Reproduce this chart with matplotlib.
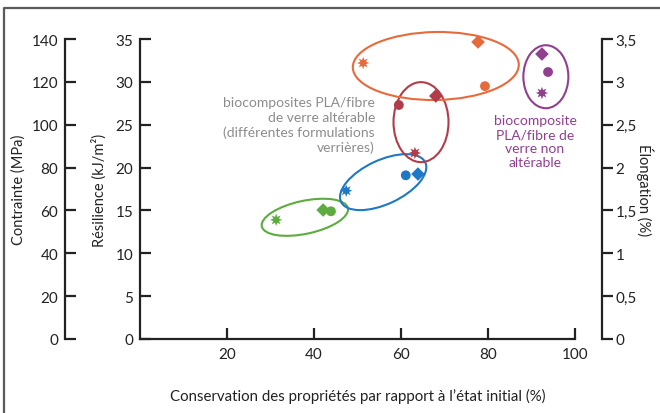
"""Conservation des propriétés - biocomposites PLA / fibre de verre."""

import matplotlib

matplotlib.use("Agg")
import matplotlib.pyplot as plt
import matplotlib.transforms as mtransforms
from matplotlib.lines import Line2D
from matplotlib.patches import Ellipse

plt.rcParams.update({"font.family": ["Lato", "DejaVu Sans"], "font.size": 10.5})

INK = "#222222"
GREY = "#8c8c8c"
GROUP_COLORS = ["#5eab3f", "#1f78c4", "#b13d4a", "#e76a3c", "#913f8f"]

# one value per group: green, blue, red, orange, purple
star_x = [31.3, 47.4, 63.2, 51.3, 92.4]
star_y = [13.9, 17.3, 21.7, 32.2, 28.7]
diamond_x = [42.1, 63.9, 68.0, 77.7, 92.4]
diamond_y = [15.05, 19.25, 28.35, 34.65, 33.25]
circle_x = [43.9, 61.1, 59.5, 79.3, 93.8]
circle_y = [14.9, 19.1, 27.3, 29.5, 31.15]

# ellipse centres (data units)
ell_cx = [37.9, 55.9, 64.6, 68.0, 93.3]
ell_cy = [14.2, 18.3, 25.3, 31.85, 30.6]

x_ticks = [20, 40, 60, 80, 100]
res_ticks = [0, 5, 10, 15, 20, 25, 30, 35]
con_ticks = [0, 20, 40, 60, 80, 100, 120, 140]
elo_ticks = [0, 0.5, 1, 1.5, 2, 2.5, 3, 3.5]
elo_labels = ["0", "0,5", "1", "1,5", "2", "2,5", "3", "3,5"]

W, H = 660, 414
fig = plt.figure(figsize=(W / 100, H / 100), dpi=100)
rect = [140 / W, (H - 340) / H, 435 / W, 300 / H]

# résilience axis (main)
ax = fig.add_axes(rect)
ax.set_xlim(0, 100)
ax.set_ylim(0, 35)
ax.patch.set_alpha(0)
for s in ["top", "right"]:
    ax.spines[s].set_visible(False)
for s in ["left", "bottom"]:
    ax.spines[s].set_linewidth(1.6)
    ax.spines[s].set_color(INK)
ax.set_xticks(x_ticks)
ax.set_yticks(res_ticks)
ax.tick_params(direction="in", length=8, width=1.6, color=INK, labelcolor=INK,
               labelsize=11)
ax.tick_params(axis="y", pad=5)
ax.tick_params(axis="x", pad=6)
ax.set_ylabel("Résilience (kJ/m²)", fontsize=10.5, labelpad=6, color=INK)
ax.set_xlabel("Conservation des propriétés par rapport à l’état initial (%)",
              fontsize=10.8, labelpad=19, color=INK)

# contrainte axis
ax2 = fig.add_axes(rect, sharex=ax)
ax2.patch.set_alpha(0)
ax2.set_ylim(0, 140)
for s in ["top", "right", "bottom"]:
    ax2.spines[s].set_visible(False)
ax2.spines["left"].set_position(("axes", -75 / 435))
ax2.spines["left"].set_linewidth(1.6)
ax2.spines["left"].set_color(INK)
ax2.set_yticks(con_ticks)
ax2.tick_params(axis="y", direction="in", length=8, width=1.6, color=INK,
                labelcolor=INK, labelsize=11, pad=5)
ax2.tick_params(axis="x", bottom=False, labelbottom=False)
ax2.set_ylabel("Contrainte (MPa)", fontsize=10.5, labelpad=4, color=INK)

# élongation axis
ax3 = fig.add_axes(rect, sharex=ax)
ax3.patch.set_alpha(0)
ax3.set_ylim(0, 3.5)
for s in ["top", "left", "bottom"]:
    ax3.spines[s].set_visible(False)
ax3.spines["right"].set_position(("axes", (601.5 - 140) / 435))
ax3.spines["right"].set_linewidth(1.6)
ax3.spines["right"].set_color(INK)
ax3.yaxis.tick_right()
ax3.yaxis.set_label_position("right")
ax3.set_yticks(elo_ticks, elo_labels)
ax3.tick_params(axis="y", direction="out", length=8, width=1.6, color=INK,
                labelcolor=INK, labelsize=11, pad=2)
ax3.tick_params(axis="x", bottom=False, labelbottom=False)
ax3.set_ylabel("Élongation (%)", fontsize=10.5, rotation=-90, labelpad=12,
               color=INK)

# ellipses sized in pixels, centred on data points
ell_w = [88, 93, 55, 166, 45]
ell_h = [33, 44, 80, 68, 63]
ell_a = [12, 25, 0, 1, 0]
for cx, cy, w, h, a, c in zip(ell_cx, ell_cy, ell_w, ell_h, ell_a, GROUP_COLORS):
    tr = mtransforms.ScaledTranslation(cx, cy, ax.transData)
    ax.add_patch(Ellipse((0, 0), w, h, angle=a, transform=tr, fill=False,
                         edgecolor=c, linewidth=1.5, clip_on=False))

ax.scatter(star_x, star_y, marker=(8, 1, 0), s=80, c=GROUP_COLORS, zorder=3,
           linewidths=0, clip_on=False)
ax.scatter(diamond_x, diamond_y, marker="D", s=48, c=GROUP_COLORS, zorder=3,
           linewidths=0, clip_on=False)
ax.scatter(circle_x, circle_y, marker="o", s=50, c=GROUP_COLORS, zorder=3,
           linewidths=0, clip_on=False)

fig.text(375 / W, 1 - 97 / H,
         "biocomposites PLA/fibre\nde verre altérable\n(différentes formulations\nverrières)",
         ha="right", va="top", color=GREY, fontsize=10, linespacing=1.25)
fig.text(535 / W, 1 - 115 / H,
         "biocomposite\nPLA/fibre de\nverre non\naltérable",
         ha="center", va="top", color=GROUP_COLORS[4], fontsize=10,
         linespacing=1.2)

# frame (top and left only)
fig.add_artist(Line2D([4 / W, 4 / W, 1], [0, 1 - 9 / H, 1 - 9 / H],
                      transform=fig.transFigure, color="#5a5a5a", linewidth=1.6))

fig.savefig("out.png", dpi=100)
